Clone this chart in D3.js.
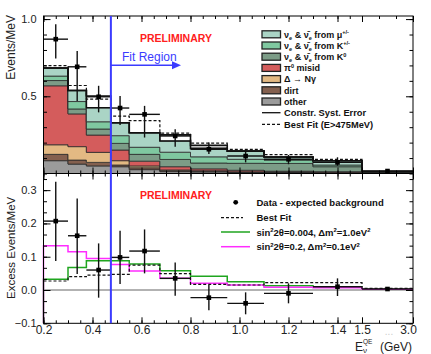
<!DOCTYPE html>
<html>
<head>
<meta charset="utf-8">
<script src="https://cdn.jsdelivr.net/npm/d3@7"></script>
<style>
  body { margin: 0; background: #fff; }
  svg { display: block; font-family: "Liberation Sans", Arial, Helvetica, sans-serif; }
</style>
</head>
<body>
<svg id="chart" width="431" height="354"></svg>
<script>
// bins in E_nu^QE (GeV)
const binEdges = [0.2, 0.3, 0.375, 0.475, 0.55, 0.675, 0.8, 0.95, 1.1, 1.3, 1.5, 3.0]
const binCentres = [0.25, 0.3375, 0.425, 0.5125, 0.6125, 0.7375, 0.875, 1.025, 1.2, 1.4, 2.25]

// top panel, background components (events/MeV), bottom -> top
const bkgOther = [0.083, 0.061, 0.049, 0.044, 0.025, 0.012, 0.010, 0.006, 0.006, 0.005, 0.002]
const bkgDirt  = [0.041, 0.026, 0.023, 0.011, 0.012, 0.006, 0.004, 0.003, 0.003, 0.002, 0.001]
const bkgDelta = [0.062, 0.087, 0.065, 0.028, 0.012, 0.005, 0.004, 0.002, 0.002, 0.001, 0.0005]
const bkgPi0   = [0.382, 0.212, 0.112, 0.069, 0.031, 0.021, 0.012, 0.010, 0.004, 0.004, 0.001]
const bkgK0    = [0.034, 0.032, 0.039, 0.043, 0.044, 0.047, 0.038, 0.045, 0.050, 0.032, 0.004]
const bkgKpm   = [0.029, 0.048, 0.047, 0.050, 0.046, 0.047, 0.040, 0.026, 0.022, 0.011, 0.002]
const bkgMu    = [0.052, 0.072, 0.091, 0.084, 0.094, 0.072, 0.055, 0.053, 0.020, 0.028, 0.002]
const constrSyst = [0.683, 0.538, 0.502, 0.329, 0.264, 0.250, 0.182, 0.145, 0.107, 0.083, 0.013]
const bestFitTop = [0.698, 0.570, 0.482, 0.372, 0.342, 0.262, 0.197, 0.156, 0.122, 0.092, 0.013]

// top panel, data
const dataTop      = [0.870, 0.691, 0.497, 0.424, 0.383, 0.243, 0.157, 0.113, 0.092, 0.072, 0.016]
const dataTopErrHi = [0.096, 0.102, 0.071, 0.078, 0.055, 0.043, 0.043, 0.044, 0.028, 0.033, 0.006]
const dataTopErrLo = [0.125, 0.222, 0.101, 0.110, 0.150, 0.070, 0.031, 0.041, 0.032, 0.022, 0.006]

// bottom panel, excess
const excess      = [0.207, 0.163, 0.060, 0.098, 0.117, 0.035, -0.023, -0.040, -0.010, 0.010, 0.003]
const excessErrHi = [0.118, 0.112, 0.080, 0.080, 0.065, 0.048, 0.038, 0.033, 0.030, 0.025, 0.004]
const excessErrLo = [0.120, 0.115, 0.083, 0.080, 0.067, 0.052, 0.038, 0.033, 0.030, 0.028, 0.004]
const bestFitExcess = [0.027, 0.040, 0.045, 0.047, 0.075, 0.049, 0.017, 0.015, 0.022, 0.022, 0.005]
const oscDm1  = [0.032, 0.068, 0.088, 0.088, 0.078, 0.058, 0.041, 0.025, 0.013, 0.010, 0.003]
const oscDm01 = [0.133, 0.115, 0.095, 0.077, 0.057, 0.035, 0.020, 0.015, 0.008, 0.007, 0.002]

// ticks
const xTickLabels = [0.2, 0.4, 0.6, 0.8, 1.0, 1.2, 1.4, 1.5, 3.0]
const yTopTickLabels = [0.5, 1.0]
const yBotTickLabels = [-0.1, 0.0, 0.1, 0.2, 0.3]
const fitStart = 0.475

const svg = d3.select("#chart")
const L = 43.5, R = 413, T = 16, M = 173.5, B = 323.3

// x axis is compressed above 1.5 GeV
const x = d3.scaleLinear().domain([0.2, 1.5, 3.0]).range([L, 362, R])
const yTop = d3.scaleLinear().domain([0, 1.02]).range([M, T])
const yBot = d3.scaleLinear().domain([-0.1, 0.35]).range([B, M])

const colors = {
  other: "#9b9b9b", dirt: "#84604f", delta: "#e3b983", pi0: "#d45c5c",
  k0: "#7c9c87", kpm: "#7fc8a0", mu: "#aad4c5"
}
const keys = ["other", "dirt", "delta", "pi0", "k0", "kpm", "mu"]
const series = { other: bkgOther, dirt: bkgDirt, delta: bkgDelta, pi0: bkgPi0, k0: bkgK0, kpm: bkgKpm, mu: bkgMu }

const rows = binCentres.map((c, i) => {
  const r = { lo: binEdges[i], hi: binEdges[i + 1] }
  keys.forEach(k => r[k] = series[k][i])
  return r
})

// histogram step helpers
function stepPoints(vals){
  const pts = []
  vals.forEach((v, i) => { pts.push([binEdges[i], v]); pts.push([binEdges[i + 1], v]) })
  return pts
}

// ---------- top panel ----------
const topG = svg.append("g")
const stacked = d3.stack().keys(keys)(rows)
const area = d3.area().x(p => x(p.e)).y0(p => yTop(p.a)).y1(p => yTop(p.b))

topG.selectAll("path.layer")
  .data(stacked)
  .enter()
  .append("path")
  .attr("class", "layer")
  .attr("d", layer => {
    const pts = []
    layer.forEach(d => {
      pts.push({ e: d.data.lo, a: d[0], b: d[1] })
      pts.push({ e: d.data.hi, a: d[0], b: d[1] })
    })
    return area(pts)
  })
  .attr("fill", layer => colors[layer.key])
  .attr("stroke", "#2b2b2b")
  .attr("stroke-width", 0.8)

const lineTop = d3.line().x(p => x(p[0])).y(p => yTop(p[1]))
const stackTotal = rows.map(r => keys.reduce((s, k) => s + r[k], 0))

topG.append("path").attr("d", lineTop(stepPoints(stackTotal)))
  .attr("fill", "none").attr("stroke", "#111").attr("stroke-width", 1.6)
topG.append("path").attr("d", lineTop(stepPoints(constrSyst)))
  .attr("fill", "none").attr("stroke", "#111").attr("stroke-width", 1.6)
topG.append("path").attr("d", lineTop(stepPoints(bestFitTop)))
  .attr("fill", "none").attr("stroke", "#111").attr("stroke-width", 1.2).attr("stroke-dasharray", "3,2")

function drawPoints(g, yScale, vals, hi, lo){
  const pts = g.selectAll("g.pt").data(vals).enter().append("g").attr("class", "pt")
  pts.append("line")
    .attr("x1", (d, i) => x(binCentres[i])).attr("x2", (d, i) => x(binCentres[i]))
    .attr("y1", (d, i) => yScale(d + hi[i])).attr("y2", (d, i) => yScale(d - lo[i]))
    .attr("stroke", "#111").attr("stroke-width", 1.4)
  pts.append("line")
    .attr("x1", (d, i) => x(binEdges[i])).attr("x2", (d, i) => x(binEdges[i + 1]))
    .attr("y1", d => yScale(d)).attr("y2", d => yScale(d))
    .attr("stroke", "#111").attr("stroke-width", 1.4)
  pts.append("rect")
    .attr("x", (d, i) => x(binCentres[i]) - 2.3).attr("y", d => yScale(d) - 2.3)
    .attr("width", 4.6).attr("height", 4.6).attr("fill", "#000")
}
drawPoints(topG, yTop, dataTop, dataTopErrHi, dataTopErrLo)

// ---------- bottom panel ----------
const botG = svg.append("g")
const lineBot = d3.line().x(p => x(p[0])).y(p => yBot(p[1]))

botG.append("line").attr("x1", L).attr("x2", R).attr("y1", yBot(0)).attr("y2", yBot(0))
  .attr("stroke", "#999").attr("stroke-width", 1.4)
botG.append("path").attr("d", lineBot([[0.2, -0.1]].concat(stepPoints(oscDm1))))
  .attr("fill", "none").attr("stroke", "#1fa51f").attr("stroke-width", 1.5)
botG.append("path").attr("d", lineBot([[0.2, -0.1]].concat(stepPoints(oscDm01))))
  .attr("fill", "none").attr("stroke", "#ff2cff").attr("stroke-width", 1.5)
botG.append("path").attr("d", lineBot(stepPoints(bestFitExcess)))
  .attr("fill", "none").attr("stroke", "#111").attr("stroke-width", 1.2).attr("stroke-dasharray", "3,2")
drawPoints(botG, yBot, excess, excessErrHi, excessErrLo)

// ---------- frames and axes ----------
svg.append("rect").attr("x", L).attr("y", T).attr("width", R - L).attr("height", M - T)
  .attr("fill", "none").attr("stroke", "#000").attr("stroke-width", 1)
svg.append("rect").attr("x", L).attr("y", M).attr("width", R - L).attr("height", B - M)
  .attr("fill", "none").attr("stroke", "#000").attr("stroke-width", 1)

const xMinor = d3.range(0.2, 1.5001, 0.05).concat([2.0, 2.5])
const noLabel = () => ""

function addAxis(axis, tx, ty){
  const g = svg.append("g").attr("transform", "translate(" + tx + "," + ty + ")").call(axis)
  g.select(".domain").remove()
  g.selectAll("line").attr("stroke", "#000")
  return g
}

// x ticks on every horizontal edge
;[[T, "top"], [M, "bottom"], [M, "top"]].forEach(([yy, side]) => {
  const mk = side === "top" ? d3.axisTop : d3.axisBottom
  addAxis(mk(x).tickValues(xTickLabels).tickSize(-6).tickFormat(noLabel), 0, yy)
  addAxis(mk(x).tickValues(xMinor).tickSize(-3).tickFormat(noLabel), 0, yy)
})
const xAx = addAxis(d3.axisBottom(x).tickValues(xTickLabels).tickSize(-6).tickPadding(2.5).tickFormat(d3.format(".1f")), 0, B)
addAxis(d3.axisBottom(x).tickValues(xMinor).tickSize(-3).tickFormat(noLabel), 0, B)
xAx.selectAll("text").attr("font-size", 12).attr("font-family", null).attr("fill", "#222")
xAx.selectAll("text").filter(d => d === 3.0).attr("dx", -5)

// y ticks, top panel
const yTopMinor = d3.range(0, 1.01, 0.1)
const yTopAx = addAxis(d3.axisLeft(yTop).tickValues(yTopTickLabels).tickSize(-7).tickPadding(7).tickFormat(d3.format(".1f")), L, 0)
yTopAx.selectAll("text").attr("font-size", 11).attr("font-family", null).attr("fill", "#222")
addAxis(d3.axisLeft(yTop).tickValues(yTopMinor).tickSize(-3.5).tickFormat(noLabel), L, 0)
addAxis(d3.axisRight(yTop).tickValues(yTopTickLabels).tickSize(-7).tickFormat(noLabel), R, 0)
addAxis(d3.axisRight(yTop).tickValues(yTopMinor).tickSize(-3.5).tickFormat(noLabel), R, 0)

// y ticks, bottom panel
const yBotMinor = d3.range(-0.1, 0.35, 0.1 / 3)
const yBotAx = addAxis(d3.axisLeft(yBot).tickValues(yBotTickLabels).tickSize(-7).tickPadding(7).tickFormat(d3.format(".1f")), L, 0)
yBotAx.selectAll("text").attr("font-size", 11).attr("font-family", null).attr("fill", "#222")
addAxis(d3.axisLeft(yBot).tickValues(yBotMinor).tickSize(-3.5).tickFormat(noLabel), L, 0)
addAxis(d3.axisRight(yBot).tickValues(yBotTickLabels).tickSize(-7).tickFormat(noLabel), R, 0)
addAxis(d3.axisRight(yBot).tickValues(yBotMinor).tickSize(-3.5).tickFormat(noLabel), R, 0)

svg.append("text").attr("x", 389).attr("y", 335).attr("text-anchor", "middle")
  .attr("font-size", 10).attr("fill", "#ccc").text("...")

// axis titles
svg.append("text").attr("transform", "translate(15,15) rotate(-90)")
  .attr("text-anchor", "end").attr("font-size", 12).attr("fill", "#222").text("Events/MeV")
svg.append("text").attr("transform", "translate(15,299) rotate(-90)")
  .attr("text-anchor", "start").attr("font-size", 11.5).attr("fill", "#222").text("Excess Events/MeV")

svg.append("text").attr("x", 355).attr("y", 350.5).attr("font-size", 12).attr("fill", "#222").text("E")
svg.append("text").attr("x", 363).attr("y", 343.5).attr("font-size", 6.5).attr("fill", "#222").text("QE")
svg.append("text").attr("x", 363).attr("y", 352.5).attr("font-size", 8).attr("fill", "#222").text("ν")
svg.append("text").attr("x", 380).attr("y", 350.5).attr("font-size", 12).attr("fill", "#222").text("(GeV)")

// fit region marker
svg.append("line").attr("x1", x(fitStart)).attr("x2", x(fitStart)).attr("y1", T).attr("y2", B)
  .attr("stroke", "#3b3bff").attr("stroke-width", 2)
svg.append("line").attr("x1", x(fitStart)).attr("x2", 173).attr("y1", 65.3).attr("y2", 65.3)
  .attr("stroke", "#3b3bff").attr("stroke-width", 1.5)
svg.append("path").attr("d", "M172,61.3L181,65.3L172,69.3Z").attr("fill", "#3b3bff")
svg.append("text").attr("x", 122).attr("y", 61).attr("font-size", 12).attr("fill", "#3b3bff").text("Fit Region")

// preliminary stamps
;[42, 199].forEach(yy => {
  svg.append("text").attr("x", 140).attr("y", yy).attr("font-size", 10.5).attr("font-weight", "bold")
    .attr("fill", "#ff2020").text("PRELIMINARY")
})

// rich text with sub / superscripts
function rich(x0, y0, parts, size){
  const t = svg.append("text").attr("x", x0).attr("y", y0).attr("font-size", size)
    .attr("font-weight", "bold").attr("fill", "#111")
  let off = 0
  parts.forEach(p => {
    const kind = p[1] || ""
    const target = kind === "sub" ? size * 0.22 : kind === "sup" ? -size * 0.38 : 0
    t.append("tspan").attr("dy", target - off).attr("font-size", kind ? size * 0.62 : size).text(p[0])
    off = target
  })
  return t
}

// top legend
const legendTop = [
  { key: "mu",    parts: [["ν"], ["e", "sub"], [" & ν̄"], ["e", "sub"], [" from μ"], ["+/-", "sup"]] },
  { key: "kpm",   parts: [["ν"], ["e", "sub"], [" & ν̄"], ["e", "sub"], [" from K"], ["+/-", "sup"]] },
  { key: "k0",    parts: [["ν"], ["e", "sub"], [" & ν̄"], ["e", "sub"], [" from K"], ["0", "sup"]] },
  { key: "pi0",   parts: [["π"], ["0", "sup"], [" misid"]] },
  { key: "delta", parts: [["Δ → Nγ"]] },
  { key: "dirt",  parts: [["dirt"]] },
  { key: "other", parts: [["other"]] }
]
legendTop.forEach((d, i) => {
  const cy = 34.3 + i * 11.2
  svg.append("rect").attr("x", 262).attr("y", cy - 3.5).attr("width", 18.5).attr("height", 7)
    .attr("fill", colors[d.key]).attr("stroke", "#222").attr("stroke-width", 1.3)
  rich(284, cy + 3.3, d.parts, 9)
})
svg.append("line").attr("x1", 262).attr("x2", 280.5).attr("y1", 112.7).attr("y2", 112.7)
  .attr("stroke", "#111").attr("stroke-width", 1.3)
rich(284, 116, [["Constr. Syst. Error"]], 9.3)
svg.append("line").attr("x1", 262).attr("x2", 280.5).attr("y1", 124.3).attr("y2", 124.3)
  .attr("stroke", "#111").attr("stroke-width", 1.2).attr("stroke-dasharray", "3,2")
rich(284, 127.6, [["Best Fit (E>475MeV)"]], 9.3)

// bottom legend
svg.append("circle").attr("cx", 235.7).attr("cy", 202.3).attr("r", 2.4).attr("fill", "#000")
rich(256.5, 205.8, [["Data - expected background"]], 9.5)
svg.append("line").attr("x1", 221).attr("x2", 243).attr("y1", 217.7).attr("y2", 217.7)
  .attr("stroke", "#111").attr("stroke-width", 1.2).attr("stroke-dasharray", "3,2")
rich(256.5, 221.2, [["Best Fit"]], 9.5)
svg.append("line").attr("x1", 221).attr("x2", 250).attr("y1", 232).attr("y2", 232)
  .attr("stroke", "#1fa51f").attr("stroke-width", 1.5)
rich(256.5, 235.5, [["sin"], ["2", "sup"], ["2θ=0.004, Δm"], ["2", "sup"], ["=1.0eV"], ["2", "sup"]], 9.5)
svg.append("line").attr("x1", 221).attr("x2", 250).attr("y1", 246.7).attr("y2", 246.7)
  .attr("stroke", "#ff2cff").attr("stroke-width", 1.5)
rich(256.5, 250.2, [["sin"], ["2", "sup"], ["2θ=0.2, Δm"], ["2", "sup"], ["=0.1eV"], ["2", "sup"]], 9.5)
</script>
</body>
</html>
